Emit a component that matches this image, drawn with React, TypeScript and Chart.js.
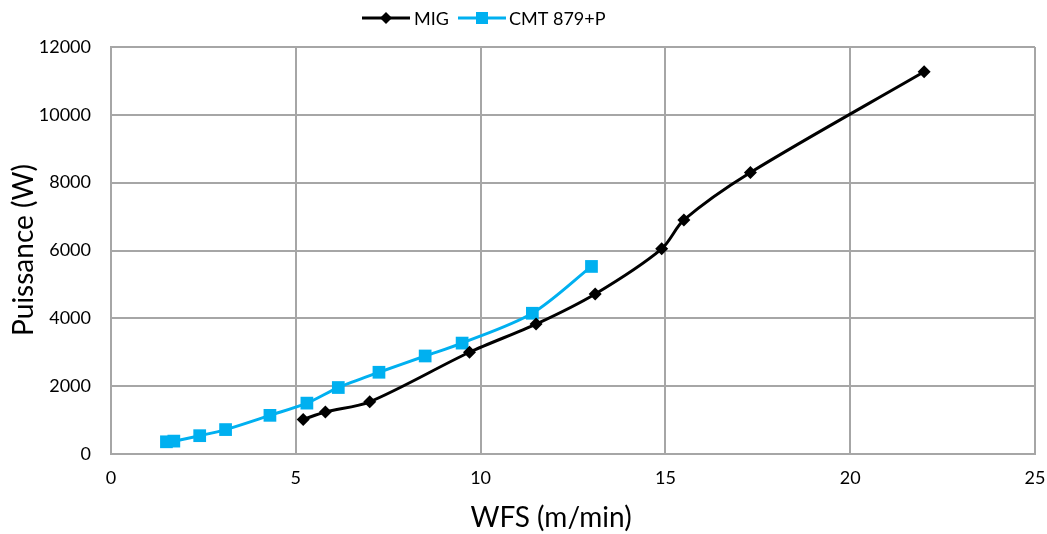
import React, { useEffect, useRef } from "react";
import { Chart, registerables } from "chart.js";

Chart.register(...registerables);

const migX = [5.2, 5.8, 7.0, 9.7, 11.5, 13.1, 14.9, 15.5, 17.3, 22.0];
const migY = [1020, 1240, 1540, 3000, 3830, 4720, 6050, 6900, 8300, 11270];
const cmtX = [1.5, 1.7, 2.4, 3.1, 4.3, 5.3, 6.15, 7.25, 8.5, 9.5, 11.4, 13.0];
const cmtY = [360, 380, 540, 720, 1140, 1500, 1960, 2410, 2890, 3270, 4150, 5530];
const seriesNames = ["MIG", "CMT 879+P"];
const seriesColors = ["#000000", "#00B0F0"];
const xTitle = "WFS (m/min)";
const yTitle = "Puissance (W)";

const FONT = "Lato, 'Open Sans', sans-serif";

const overlay = {
  id: "overlay",
  afterDraw(chart: any) {
    const ctx = chart.ctx;
    ctx.save();
    ctx.fillStyle = "#000";
    ctx.font = `28px ${FONT}`;
    ctx.textAlign = "center";
    ctx.textBaseline = "middle";
    ctx.fillText(xTitle, 551, 518);
    ctx.save();
    ctx.translate(24, 250);
    ctx.rotate(-Math.PI / 2);
    ctx.fillText(yTitle, 0, 0);
    ctx.restore();
    ctx.font = `18px ${FONT}`;
    ctx.textAlign = "left";
    const y = 18;
    const entries = [
      { x0: 362, tx: 414, name: seriesNames[0], color: seriesColors[0], style: "diamond" },
      { x0: 458, tx: 509, name: seriesNames[1], color: seriesColors[1], style: "square" },
    ];
    for (const e of entries) {
      ctx.strokeStyle = e.color;
      ctx.lineWidth = 3;
      ctx.beginPath();
      ctx.moveTo(e.x0, y);
      ctx.lineTo(e.x0 + 48, y);
      ctx.stroke();
      ctx.fillStyle = e.color;
      const cx = e.x0 + 24;
      if (e.style === "diamond") {
        ctx.beginPath();
        ctx.moveTo(cx, y - 6);
        ctx.lineTo(cx + 6, y);
        ctx.lineTo(cx, y + 6);
        ctx.lineTo(cx - 6, y);
        ctx.closePath();
        ctx.fill();
      } else {
        ctx.fillRect(cx - 6, y - 6, 12, 12);
      }
      ctx.fillStyle = "#000";
      ctx.fillText(e.name, e.tx, y + 1);
    }
    ctx.restore();
  },
};

export default function App() {
  const ref = useRef<HTMLCanvasElement>(null);
  useEffect(() => {
    if (!ref.current) return;
    const chart = new Chart(ref.current, {
      type: "line",
      data: {
        datasets: [
          {
            label: seriesNames[0],
            data: migX.map((x, i) => ({ x, y: migY[i] })),
            borderColor: seriesColors[0],
            backgroundColor: seriesColors[0],
            borderWidth: 3,
            pointStyle: "rectRot",
            pointRadius: 6.5,
            pointBorderWidth: 0,
            tension: 0.3,
          },
          {
            label: seriesNames[1],
            data: cmtX.map((x, i) => ({ x, y: cmtY[i] })),
            borderColor: seriesColors[1],
            backgroundColor: seriesColors[1],
            borderWidth: 3,
            pointStyle: "rect",
            pointRadius: 9,
            pointBorderWidth: 0,
            tension: 0.3,
          },
        ],
      },
      options: {
        animation: false,
        responsive: false,
        layout: { autoPadding: false, padding: { top: 47, right: 12, left: 0, bottom: 0 } },
        plugins: { legend: { display: false }, tooltip: { enabled: false } },
        scales: {
          x: {
            type: "linear",
            min: 0,
            max: 25,
            ticks: {
              stepSize: 5,
              color: "#000",
              font: { family: FONT, size: 18 },
              padding: 13,
              maxRotation: 0,
              callback: (v: any) => String(v),
            },
            grid: { color: "#A6A6A6", lineWidth: 2, drawTicks: false },
            border: { color: "#A6A6A6", width: 2 },
            afterFit: (s: any) => {
              s.height = 80;
              s.paddingLeft = 0;
              s.paddingRight = 0;
            },
          },
          y: {
            type: "linear",
            min: 0,
            max: 12000,
            ticks: {
              stepSize: 2000,
              color: "#000",
              font: { family: FONT, size: 18 },
              padding: 20,
              callback: (v: any) => String(v),
            },
            grid: { color: "#A6A6A6", lineWidth: 2, drawTicks: false },
            border: { color: "#A6A6A6", width: 2 },
            afterFit: (s: any) => {
              s.width = 111;
              s.paddingTop = 0;
              s.paddingBottom = 0;
            },
          },
        },
      },
      plugins: [overlay],
    });
    return () => chart.destroy();
  }, []);
  return (
    <div style={{ position: "fixed", left: 0, top: 0, width: 1047, height: 534, background: "#fff" }}>
      <canvas ref={ref} width={1047} height={534} />
    </div>
  );
}
